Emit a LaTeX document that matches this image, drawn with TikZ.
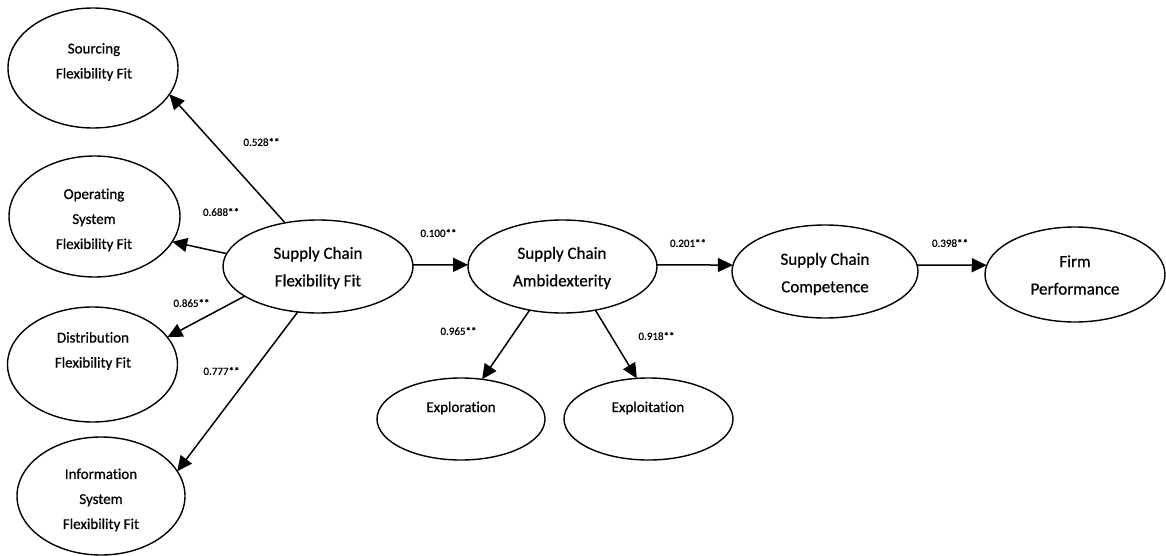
\documentclass[tikz,border=0pt]{standalone}
\usepackage{fontspec}
\setmainfont{Carlito}[FakeBold=0.7,Ligatures=NoCommon]
\usetikzlibrary{arrows.meta,shapes.geometric}
\begin{document}
\begin{tikzpicture}[x=1pt,y=-1pt,
  construct/.style={draw, ellipse, line width=1.4pt, inner sep=0pt, outer sep=0pt},
  bigtext/.style={align=center, font=\fontsize{17}{27.5}\selectfont, inner sep=0pt},
  smalltext/.style={align=center, font=\fontsize{15}{25}\selectfont, inner sep=0pt},
  coef/.style={font=\fontsize{11}{13}\selectfont, inner sep=0pt},
  link/.style={draw, line width=1.5pt, -{Triangle[length=15pt,width=14pt]}}
]
\fill[white] (0,0) rectangle (1166,556);
\useasboundingbox (0,0) rectangle (1166,556);

% first-order dimensions
\node[construct, minimum width=170pt, minimum height=120pt] (src) at (93,68) {};
\node[smalltext] (src-t) at (94,62) {Sourcing\\Flexibility Fit};
\node[construct, minimum width=171pt, minimum height=121pt] (ops) at (94.5,216.5) {};
\node[smalltext] (ops-t) at (94,220) {Operating\\System\\Flexibility Fit};
\node[construct, minimum width=170pt, minimum height=115pt] (dst) at (92.5,364.5) {};
\node[smalltext] (dst-t) at (93,351) {Distribution\\Flexibility Fit};
\node[construct, minimum width=168pt, minimum height=118pt] (inf) at (101,496) {};
\node[smalltext] (inf-t) at (101,500) {Information\\System\\Flexibility Fit};

% main constructs
\node[construct, minimum width=190pt, minimum height=93pt] (scff) at (318,266.5) {};
\node[bigtext] (scff-t) at (318,268) {Supply Chain\\Flexibility Fit};
\node[construct, minimum width=189pt, minimum height=93pt] (sca) at (562.5,266.5) {};
\node[bigtext] (sca-t) at (562,268) {Supply Chain\\Ambidexterity};
\node[construct, minimum width=186pt, minimum height=93pt] (scc) at (825,271.5) {};
\node[bigtext] (scc-t) at (825,274) {Supply Chain\\Competence};
\node[construct, minimum width=180pt, minimum height=95pt] (firm) at (1075,274.5) {};
\node[bigtext] (firm-t) at (1075,275) {Firm\\Performance};

% ambidexterity dimensions
\node[construct, minimum width=168pt, minimum height=82pt] (explr) at (461,419) {};
\node[smalltext] (explr-t) at (461,408) {Exploration};
\node[construct, minimum width=169pt, minimum height=82pt] (explt) at (648.5,419) {};
\node[smalltext] (explt-t) at (648,408) {Exploitation};

% paths
\draw[link] (scff.127) -- (src.-19);
\draw[link] (scff.172) -- (ops.-18);
\draw[link] (scff.202) -- (dst.20);
\draw[link] (scff.246) -- (inf.18);
\draw[link] (scff.1) -- (sca.179);
\draw[link] (sca.1) -- (scc.176);
\draw[link] (scc.4) -- (firm.174);
\draw[link] (sca.233) -- (explr.62);
\draw[link] (sca.-53) -- (explt.106);

% path coefficients
\node[coef] (c1) at (261.5,142) {0.528**};
\node[coef] (c2) at (221,212) {0.688**};
\node[coef] (c3) at (191.5,303) {0.865**};
\node[coef] (c4) at (221.5,371) {0.777**};
\node[coef] (c5) at (438.5,233) {0.100**};
\node[coef] (c6) at (458.5,331) {0.965**};
\node[coef] (c7) at (656.5,336) {0.918**};
\node[coef] (c8) at (688,243) {0.201**};
\node[coef] (c9) at (950,243) {0.398**};
\end{tikzpicture}
\end{document}
